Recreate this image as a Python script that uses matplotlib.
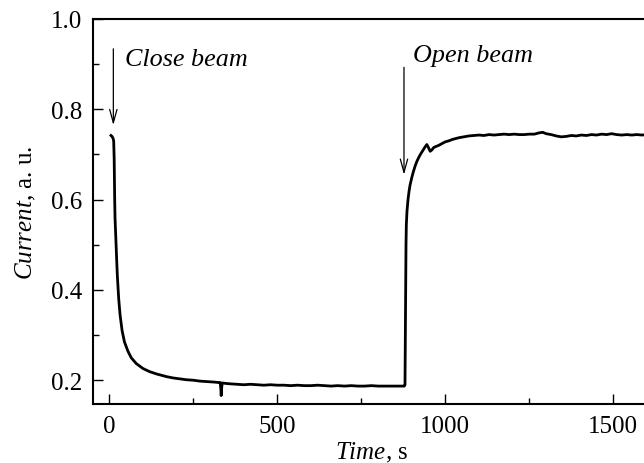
import matplotlib
matplotlib.use("Agg")
import matplotlib.pyplot as plt
from matplotlib.ticker import MultipleLocator

# Photocurrent vs time
time_s = [5, 8, 11, 13, 14.5, 16, 17, 18, 20, 22, 24, 26, 28, 32, 38, 45, 55, 65, 80,
          100, 120, 140, 155, 170, 190, 210, 230, 250, 270, 290, 310, 325,
          330, 332, 333, 334, 336, 345, 360, 380, 400, 420, 440, 460, 480, 500, 520, 540,
          560, 580, 600, 620, 640, 660, 680, 700, 720, 740, 760, 780, 800, 820, 840, 860,
          878, 880, 881, 882, 883, 884, 886, 889, 892, 895, 900, 905, 910, 915, 920, 925,
          930, 935, 940, 945, 950, 955, 960, 965, 970, 980, 990, 1000, 1010, 1020, 1030,
          1040, 1055, 1070, 1085, 1100, 1115, 1130, 1145, 1160, 1175, 1190, 1205, 1220,
          1235, 1250, 1265, 1280, 1290, 1300, 1315, 1330, 1345, 1360, 1375, 1390, 1405,
          1420, 1435, 1450, 1465, 1480, 1495, 1510, 1525, 1540, 1555, 1570, 1585, 1600, 1620]
current = [0.742, 0.740, 0.736, 0.730, 0.690, 0.600, 0.560, 0.540, 0.500, 0.465, 0.430,
           0.405, 0.380, 0.345, 0.310, 0.285, 0.265, 0.250, 0.237,
           0.226, 0.219, 0.214, 0.211, 0.208, 0.205, 0.203, 0.201, 0.200, 0.198,
           0.197, 0.196, 0.195, 0.195, 0.180, 0.166, 0.180, 0.194, 0.193, 0.192, 0.191,
           0.190, 0.191, 0.190, 0.189, 0.190, 0.189, 0.189, 0.188, 0.189, 0.188, 0.188,
           0.189, 0.188, 0.187, 0.188, 0.187, 0.188, 0.187, 0.187, 0.188, 0.187, 0.187,
           0.187, 0.187, 0.187, 0.190, 0.300, 0.420, 0.500, 0.545, 0.575, 0.600, 0.618,
           0.632, 0.648, 0.662, 0.674, 0.684, 0.692, 0.699, 0.705, 0.711, 0.717, 0.722,
           0.715, 0.707, 0.710, 0.715, 0.717, 0.720, 0.724, 0.728, 0.730, 0.733, 0.735,
           0.737, 0.739, 0.741, 0.742, 0.743, 0.742, 0.744, 0.743, 0.744, 0.745, 0.744,
           0.745, 0.744, 0.744, 0.745, 0.745, 0.748, 0.749, 0.746, 0.744, 0.741, 0.739,
           0.740, 0.742, 0.741, 0.743, 0.742, 0.744, 0.743, 0.745, 0.744, 0.746, 0.744,
           0.743, 0.744, 0.743, 0.744, 0.743, 0.744, 0.743]

x_ticks = [0, 500, 1000, 1500]
y_ticks = [0.2, 0.4, 0.6, 0.8, 1.0]
y_tick_labels = ["0.2", "0.4", "0.6", "0.8", "1.0"]

# annotations: (label, arrow time, arrow top, arrow tip, text time, text level)
close_note = ("Close beam", 12, 0.934, 0.765, 47, 0.912)
open_note = ("Open beam", 877, 0.893, 0.655, 904, 0.920)

plt.rcParams["font.family"] = "Liberation Serif"
plt.rcParams["mathtext.fontset"] = "custom"
plt.rcParams["mathtext.rm"] = "Liberation Serif"
plt.rcParams["mathtext.it"] = "Liberation Serif:italic"

fig = plt.figure(figsize=(6.44, 4.64), dpi=100)
ax = fig.add_axes([0.1449, 0.1278, 0.9118, 0.8291])

ax.plot(time_s, current, color="black", lw=2.0, solid_joinstyle="round")

ax.set_xlim(-47.6, 1700)
ax.set_ylim(0.148, 1.0)
ax.set_xticks(x_ticks)
ax.xaxis.set_minor_locator(MultipleLocator(250))
ax.set_yticks(y_ticks)
ax.set_yticklabels(y_tick_labels)
ax.yaxis.set_minor_locator(MultipleLocator(0.1))

ax.tick_params(which="both", direction="in", width=1.0, labelsize=18, color="black")
ax.tick_params(which="major", length=7)
ax.tick_params(which="minor", length=4.5)
ax.tick_params(axis="x", pad=8)
ax.tick_params(axis="y", pad=8)
for side in ["left", "bottom", "top"]:
    ax.spines[side].set_linewidth(1.5)
ax.spines["right"].set_visible(False)

ax.set_xlabel(r"$\it{Time}$, s", fontsize=18)
ax.xaxis.set_label_coords(0.4746, -0.094)
ax.set_ylabel(r"$\it{Current}$, a. u.", fontsize=18)
ax.yaxis.set_label_coords(-0.094, 0.5)

for label, tx, ytop, ytip, txt_x, txt_y in [close_note, open_note]:
    ax.annotate("", xy=(tx, ytip), xytext=(tx, ytop),
                arrowprops=dict(arrowstyle="->,head_length=0.8,head_width=0.22",
                                lw=0.9, color="black", shrinkA=0, shrinkB=0,
                                mutation_scale=12))
    ax.text(txt_x, txt_y, label, fontsize=18.8, style="italic", va="center", ha="left")

fig.savefig("out.png", dpi=100)
